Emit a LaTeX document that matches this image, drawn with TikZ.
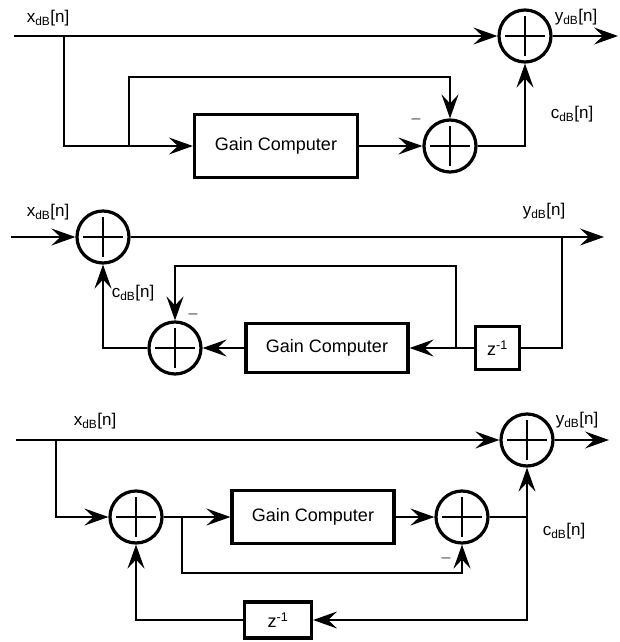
\documentclass[tikz,border=0pt]{standalone}
\usepackage{fontspec}
\setmainfont{Liberation Sans}
\usetikzlibrary{arrows.meta, positioning, calc}
\newcommand{\dBsig}[1]{#1\textsubscript{dB}[n]}

\begin{document}
\begin{tikzpicture}[
    x=1pt, y=-1pt,
    line width=1.3pt,
    box/.style={rectangle, draw, line width=3.2pt, inner sep=0pt, font=\fontsize{18}{20}\selectfont},
    sum/.style={circle, draw, line width=3.2pt, minimum size=52pt, inner sep=0pt,
        path picture={\draw[line width=1.3pt] (path picture bounding box.center) ++(-20,0) -- ++(40,0)
            (path picture bounding box.center) ++(0,-20) -- ++(0,40);}},
    arrow/.style={-{Stealth[length=24pt, width=17pt, inset=9pt]}},
    lbl/.style={inner sep=0pt, font=\fontsize{17}{20}\selectfont},
    minus/.style={inner sep=0pt, text=black!70, font=\fontsize{16}{18}\selectfont}
]
\useasboundingbox (0,0) rectangle (620,642);

\coordinate (in1) at (14,36);
\coordinate (out1) at (618,36);
\node[sum] (s1top) at (525,36) {};
\node[box, minimum width=163pt, minimum height=63pt] (gc1) at (276,146) {Gain Computer};
\node[sum] (s1dif) at (450,146) {};
\coordinate (j1a) at (64,36);
\coordinate (j1b) at (129,146);
\coordinate (t1) at (450,77);

\draw[arrow] (in1) -- (s1top);
\draw[arrow] (s1top) -- (out1);
\draw[arrow] (j1a) |- (gc1);
\draw[arrow] (j1b) |- (t1) -- (s1dif);
\draw[arrow] (gc1) -- (s1dif);
\draw[arrow] (s1dif) -| (s1top);

\node[lbl] (x1) at (48,18) {\dBsig{x}};
\node[lbl] (y1) at (576,17) {\dBsig{y}};
\node[lbl] (c1) at (572,114) {\dBsig{c}};
\node[minus] (m1) at (416,121) {--};

\coordinate (in2) at (11,237);
\coordinate (out2) at (604,237);
\node[sum] (s2add) at (103,237) {};
\node[sum] (s2dif) at (175,348) {};
\node[box, minimum width=162pt, minimum height=49pt] (gc2) at (327,348) {Gain Computer};
\node[box, minimum width=44pt, minimum height=43pt] (z2) at (497.5,348) {z\textsuperscript{-1}};
\coordinate (j2a) at (562,237);
\coordinate (j2b) at (456,348);
\coordinate (t2) at (175,266);

\draw[arrow] (in2) -- (s2add);
\draw[arrow] (s2add) -- (out2);
\draw (j2a) |- (z2);
\draw[arrow] (z2) -- (gc2);
\draw[arrow] (j2b) |- (t2) -- (s2dif);
\draw[arrow] (gc2) -- (s2dif);
\draw[arrow] (s2dif) -| (s2add);

\node[lbl] (x2) at (48,212) {\dBsig{x}};
\node[lbl] (y2) at (544,211) {\dBsig{y}};
\node[lbl] (c2) at (133,293) {\dBsig{c}};
\node[minus] (m2) at (193,316) {--};

\coordinate (in3) at (16,440);
\coordinate (out3) at (609,440);
\node[sum] (s3top) at (527,440) {};
\node[sum] (s3add) at (136,517) {};
\node[box, minimum width=162pt, minimum height=53pt] (gc3) at (313,517) {Gain Computer};
\node[sum] (s3dif) at (462,517) {};
\node[box, minimum width=67pt, minimum height=36pt] (z3) at (278,620) {z\textsuperscript{-1}};
\coordinate (j3a) at (56,440);
\coordinate (j3b) at (182,517);
\coordinate (j3c) at (527,517);
\coordinate (t3) at (462,573);

\draw[arrow] (in3) -- (s3top);
\draw[arrow] (s3top) -- (out3);
\draw[arrow] (j3a) |- (s3add);
\draw[arrow] (s3add) -- (gc3);
\draw[arrow] (j3b) |- (t3) -- (s3dif);
\draw[arrow] (gc3) -- (s3dif);
\draw[arrow] (s3dif) -| (s3top);
\draw[arrow] (j3c) |- (z3);
\draw[arrow] (z3) -| (s3add);

\node[lbl] (x3) at (95,421) {\dBsig{x}};
\node[lbl] (y3) at (577,420) {\dBsig{y}};
\node[lbl] (c3) at (564,531) {\dBsig{c}};
\node[minus] (m3) at (446,560) {--};
\end{tikzpicture}
\end{document}
